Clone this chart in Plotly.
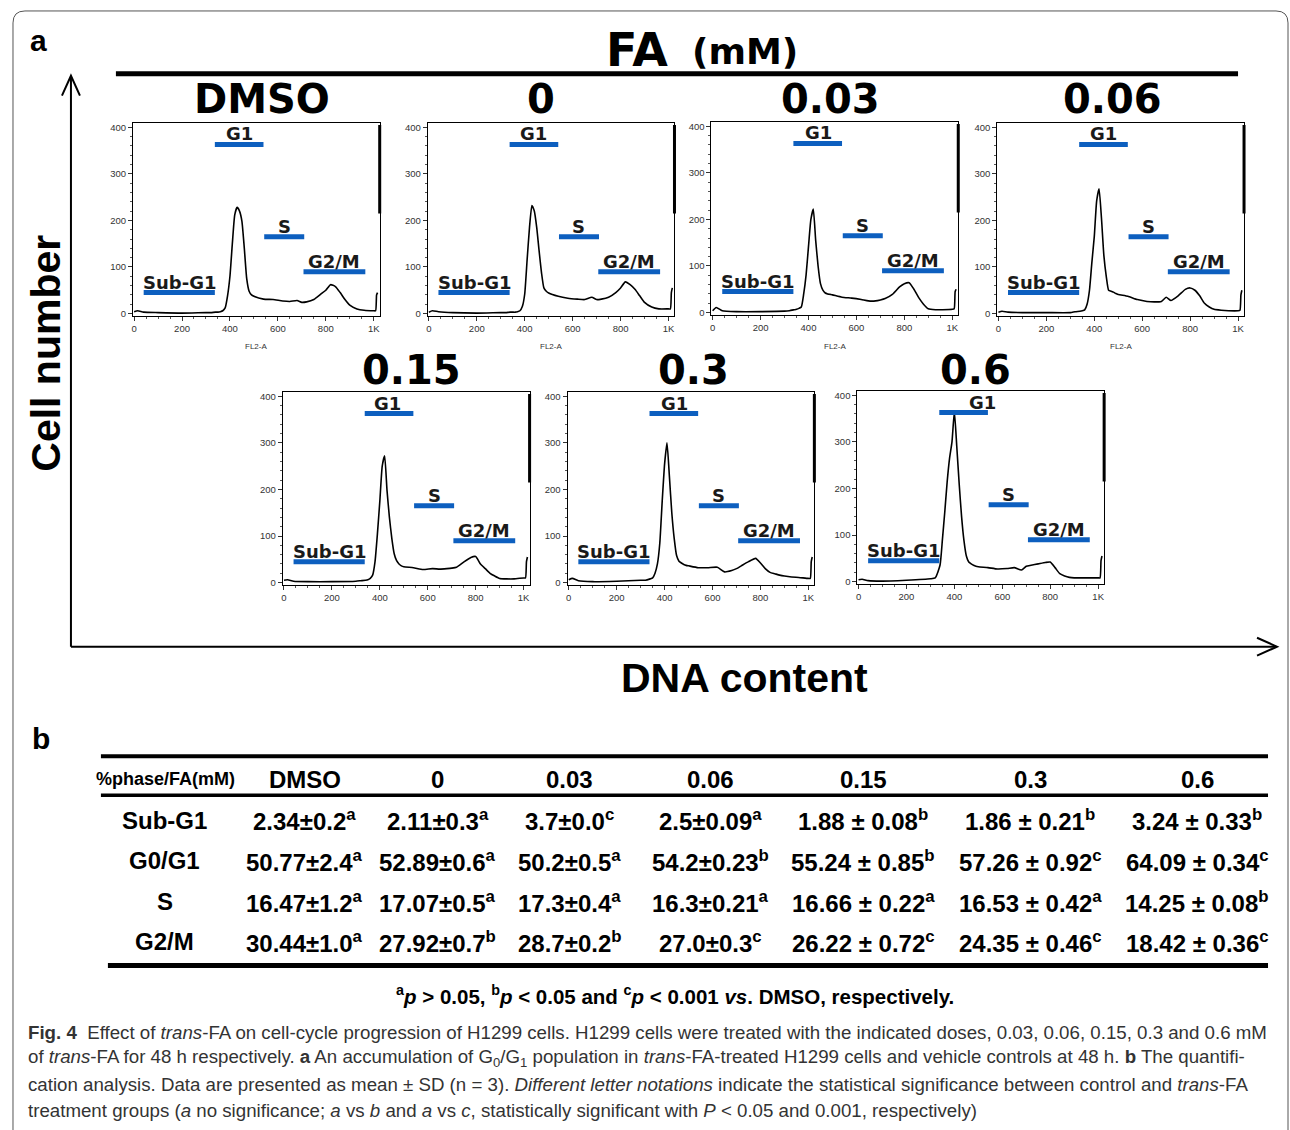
import plotly.graph_objects as go

W, H = 1290, 1130

# ---------------- data: panel a (flow-cytometry DNA histograms) ----------------
DOSES = ["DMSO", "0", "0.03", "0.06", "0.15", "0.3", "0.6"]
DNA_X = [0, 15, 40, 100, 200, 300, 320, 340, 350, 360, 370, 380, 390, 400, 410, 420,
         430, 440, 450, 460, 470, 480, 490, 500, 540, 580, 620, 650, 680, 700, 720,
         750, 780, 800, 820, 840, 860, 880, 900, 930, 960, 1000, 1008, 1012, 1016]
COUNT_DMSO = [4, 6, 3, 2, 1, 2, 2, 3, 3, 4, 6, 12, 38, 80, 150, 212, 228, 220, 198, 140,
              75, 48, 40, 37, 31, 30, 27, 26, 28, 24, 25, 30, 42, 50, 62, 58, 45, 30, 18,
              10, 7, 6, 6, 40, 45]
COUNT_0 = [3, 6, 4, 2, 1, 2, 2, 3, 3, 3, 4, 6, 15, 42, 115, 185, 232, 220, 185, 135,
           88, 55, 48, 44, 37, 33, 31, 30, 35, 30, 31, 35, 45, 55, 68, 62, 52, 38, 24,
           14, 10, 10, 10, 45, 55]
COUNT_003 = [4, 11, 4, 2, 2, 3, 4, 6, 7, 9, 12, 40, 81, 142, 200, 222, 155, 100, 62, 48,
             42, 40, 39, 38, 33, 31, 28, 25, 25, 27, 30, 39, 55, 62, 64, 50, 32, 18, 8,
             6, 6, 7, 8, 45, 50]
COUNT_006 = [3, 5, 3, 2, 2, 2, 4, 5, 6, 8, 20, 50, 110, 165, 242, 268, 205, 125, 80, 50,
             48, 46, 43, 41, 37, 30, 26, 25, 26, 35, 28, 38, 52, 55, 50, 38, 22, 14, 9,
             7, 6, 6, 7, 40, 50]
COUNT_015 = [5, 6, 3, 2, 2, 3, 4, 5, 6, 9, 16, 45, 105, 175, 250, 272, 198, 140, 95, 62,
             47, 40, 36, 34, 32, 28, 30, 29, 30, 31, 33, 44, 54, 56, 40, 30, 20, 14, 9,
             8, 8, 10, 10, 45, 55]
COUNT_03 = [6, 9, 4, 2, 3, 5, 5, 8, 10, 20, 40, 85, 175, 255, 300, 228, 150, 95, 58, 46,
            42, 39, 37, 36, 32, 32, 33, 23, 26, 30, 36, 45, 52, 42, 30, 22, 19, 16, 14,
            12, 11, 9, 9, 45, 55]
COUNT_06 = [4, 5, 2, 1, 3, 6, 8, 35, 90, 150, 215, 265, 300, 365, 290, 210, 140, 88, 55,
            42, 38, 35, 33, 32, 30, 27, 28, 30, 25, 33, 35, 38, 41, 42, 30, 17, 12, 9, 8,
            8, 8, 8, 8, 45, 55]
COUNTS = [COUNT_DMSO, COUNT_0, COUNT_003, COUNT_006, COUNT_015, COUNT_03, COUNT_06]

PHASES = ["Sub-G1", "G1", "S", "G2/M"]
GATE_X0 = [40, 337, 543, 707]
GATE_X1 = [337, 540, 710, 965]
GATE_Y = [45, 363, 165, 90]
G1_LABEL_X = [438, 438, 440, 440, 432, 440, 517]

X_TICKS = [0, 200, 400, 600, 800, 1000]
X_TICKTEXT = ["0", "200", "400", "600", "800", "1K"]
Y_TICKS = [0, 100, 200, 300, 400]

# ---------------- data: panel b (table) ----------------
TABLE_HEAD = "%phase/FA(mM)"
ROW_NAMES = ["Sub-G1", "G0/G1", "S", "G2/M"]
SUBG1_MEAN = [2.34, 2.11, 3.7, 2.5, 1.88, 1.86, 3.24]
SUBG1_SD = [0.2, 0.3, 0.0, 0.09, 0.08, 0.21, 0.33]
SUBG1_SIG = ["a", "a", "c", "a", "b", "b", "b"]
G0G1_MEAN = [50.77, 52.89, 50.2, 54.2, 55.24, 57.26, 64.09]
G0G1_SD = [2.4, 0.6, 0.5, 0.23, 0.85, 0.92, 0.34]
G0G1_SIG = ["a", "a", "a", "b", "b", "c", "c"]
S_MEAN = [16.47, 17.07, 17.3, 16.3, 16.66, 16.53, 14.25]
S_SD = [1.2, 0.5, 0.4, 0.21, 0.22, 0.42, 0.08]
S_SIG = ["a", "a", "a", "a", "a", "a", "b"]
G2M_MEAN = [30.44, 27.92, 28.7, 27.0, 26.22, 24.35, 18.42]
G2M_SD = [1.0, 0.7, 0.2, 0.3, 0.72, 0.46, 0.36]
G2M_SIG = ["a", "b", "b", "c", "c", "c", "c"]
TABLE_MEANS = [SUBG1_MEAN, G0G1_MEAN, S_MEAN, G2M_MEAN]
TABLE_SDS = [SUBG1_SD, G0G1_SD, S_SD, G2M_SD]
TABLE_SIGS = [SUBG1_SIG, G0G1_SIG, S_SIG, G2M_SIG]

FOOTNOTE = ("<sup>a</sup><i>p</i> &gt; 0.05, <sup>b</sup><i>p</i> &lt; 0.05 and "
            "<sup>c</sup><i>p</i> &lt; 0.001 <i>vs</i>. DMSO, respectively.")
CAPTION = [
    "<b>Fig. 4</b>  Effect of <i>trans</i>-FA on cell-cycle progression of H1299 cells. "
    "H1299 cells were treated with the indicated doses, 0.03, 0.06, 0.15, 0.3 and 0.6 mM",
    "of <i>trans</i>-FA for 48 h respectively. <b>a</b> An accumulation of "
    "G<sub>0</sub>/G<sub>1</sub> population in <i>trans</i>-FA-treated H1299 cells and "
    "vehicle controls at 48 h. <b>b</b> The quantifi-",
    "cation analysis. Data are presented as mean ± SD (n = 3). <i>Different letter "
    "notations</i> indicate the statistical significance between control and <i>trans</i>-FA",
    "treatment groups (<i>a</i> no significance; <i>a</i> vs <i>b</i> and <i>a</i> vs "
    "<i>c</i>, statistically significant with <i>P</i> &lt; 0.05 and 0.001, respectively)",
]

# ---------------- layout helpers ----------------
NARROW = "Liberation Sans, Arial, sans-serif"
HEAVY = "DejaVu Sans, Liberation Sans, sans-serif"
TICKF = "Liberation Sans, Arial, sans-serif"
BLUE = "#0d5fbf"


def fx(p):
    return p / W


def fy(p):
    return 1 - p / H


PANEL_BOX = [(132, 122), (427, 122), (711, 121), (997, 122), (282, 392), (567, 392), (857, 391)]
PW, PH = 247, 194
TITLE_POS = [(261, 98), (540, 98), (830, 98), (1112, 98), (411, 370), (693, 370), (975, 370)]

fig = go.Figure()
layout = dict(width=W, height=H, margin=dict(l=0, r=0, t=0, b=0),
              paper_bgcolor="white", plot_bgcolor="white", showlegend=False)
annotations = []
shapes = []

for i, (L, T) in enumerate(PANEL_BOX):
    n = i + 1
    sx = "" if n == 1 else str(n)
    xa, ya = "x" + sx, "y" + sx
    layout["xaxis" + sx] = dict(
        domain=[fx(L), fx(L + PW)], range=[-5, 1025], anchor=ya,
        showline=True, mirror=True, linecolor="black", linewidth=1,
        ticks="outside", ticklen=4, tickcolor="#333", tickvals=X_TICKS, ticktext=X_TICKTEXT,
        tickfont=dict(family=TICKF, size=9.5, color="#333"),
        minor=dict(ticks="outside", tick0=0, dtick=50, ticklen=2, tickcolor="#555"),
        showgrid=False, zeroline=False, fixedrange=True)
    layout["yaxis" + sx] = dict(
        domain=[fy(T + PH), fy(T)], range=[-5, 410], anchor=xa,
        showline=True, mirror=True, linecolor="black", linewidth=1,
        ticks="outside", ticklen=4, tickcolor="#333", tickvals=Y_TICKS,
        tickfont=dict(family=TICKF, size=9.5, color="#333"),
        minor=dict(ticks="outside", tick0=0, dtick=20, ticklen=2, tickcolor="#555"),
        showgrid=False, zeroline=False, fixedrange=True)

    fig.add_trace(go.Scatter(
        x=DNA_X, y=COUNTS[i], xaxis=xa, yaxis=ya, mode="lines",
        line=dict(color="black", width=1.6, shape="spline", smoothing=0.5),
        hoverinfo="skip"))

    for k, ph in enumerate(PHASES):
        fig.add_trace(go.Scatter(
            x=[GATE_X0[k], GATE_X1[k]], y=[GATE_Y[k], GATE_Y[k]], xaxis=xa, yaxis=ya,
            mode="lines", line=dict(color=BLUE, width=5), hoverinfo="skip"))
        lx = G1_LABEL_X[i] if ph == "G1" else (GATE_X0[k] + GATE_X1[k]) / 2
        annotations.append(dict(
            x=lx, y=GATE_Y[k], xref=xa, yref=ya, text=ph, showarrow=False,
            xanchor="center", yanchor="bottom", yshift=-2,
            font=dict(family=HEAVY, size=18, color="#1a1a1a", weight="bold")))

    # thick right frame segment of the cytometer plot
    shapes.append(dict(type="line", xref=xa + " domain", yref=ya, x0=1, x1=1, y0=215, y1=405,
                       line=dict(color="black", width=3)))

    tx, ty = TITLE_POS[i]
    annotations.append(dict(
        x=fx(tx), y=fy(ty), xref="paper", yref="paper", text=DOSES[i], showarrow=False,
        xanchor="center", yanchor="middle",
        font=dict(family=HEAVY, size=40, color="black", weight="bold")))
    if n <= 4:
        annotations.append(dict(
            x=fx(L + PW / 2), y=fy(347), xref="paper", yref="paper", text="FL2-A",
            showarrow=False, xanchor="center", yanchor="middle",
            font=dict(family=TICKF, size=8, color="#333")))

# ---- header "FA (mM)" and its rule ----
annotations.append(dict(x=fx(670), y=fy(49), xref="paper", yref="paper", text="FA",
                        showarrow=False, xanchor="right", yanchor="middle",
                        font=dict(family=HEAVY, size=46, color="black", weight="bold")))
annotations.append(dict(x=fx(690), y=fy(51), xref="paper", yref="paper", text="(mM)",
                        showarrow=False, xanchor="left", yanchor="middle",
                        font=dict(family=HEAVY, size=36, color="black", weight="bold")))
shapes.append(dict(type="line", xref="paper", yref="paper", x0=fx(115), x1=fx(1238),
                   y0=fy(73), y1=fy(73), line=dict(color="black", width=5)))

# ---- panel letters ----
for letter, (lx, ly) in zip(["a", "b"], [(38, 40), (40, 740)]):
    annotations.append(dict(x=fx(lx), y=fy(ly), xref="paper", yref="paper", text=letter,
                            showarrow=False, xanchor="center", yanchor="middle",
                            font=dict(family=TICKF, size=30, color="black", weight="bold")))

# ---- big axes arrows ----
ARROW = dict(color="black", width=2)
shapes.append(dict(type="line", xref="paper", yref="paper", x0=fx(70), x1=fx(70),
                   y0=fy(648), y1=fy(76), line=ARROW))
shapes.append(dict(type="line", xref="paper", yref="paper", x0=fx(70), x1=fx(1275),
                   y0=fy(648), y1=fy(648), line=ARROW))
shapes.append(dict(type="path", xref="paper", yref="paper", line=ARROW,
                   path=f"M {fx(61)} {fy(95)} L {fx(70)} {fy(75)} L {fx(79)} {fy(95)}"))
shapes.append(dict(type="path", xref="paper", yref="paper", line=ARROW,
                   path=f"M {fx(1257)} {fy(639)} L {fx(1277)} {fy(648)} L {fx(1257)} {fy(657)}"))
annotations.append(dict(x=fx(45), y=fy(353), xref="paper", yref="paper", text="Cell number",
                        textangle=-90, showarrow=False, xanchor="center", yanchor="middle",
                        font=dict(family=NARROW, size=41, color="black", weight="bold")))
annotations.append(dict(x=fx(744), y=fy(679), xref="paper", yref="paper", text="DNA content",
                        showarrow=False, xanchor="center", yanchor="middle",
                        font=dict(family=NARROW, size=41, color="black", weight="bold")))

# ---- table ----
COL_X = [304, 437, 569, 710, 863, 1030, 1197]
HEAD_Y = 781
ROW_Y = [822, 863, 904, 944]
SEP = ["±", "±", "±", "±", " ± ", " ± ", " ± "]
TFONT = dict(family=NARROW, size=24, color="black", weight="bold")

shapes.append(dict(type="line", xref="paper", yref="paper", x0=fx(100), x1=fx(1268),
                   y0=fy(758), y1=fy(758), line=dict(color="black", width=4)))
shapes.append(dict(type="line", xref="paper", yref="paper", x0=fx(100), x1=fx(1268),
                   y0=fy(797), y1=fy(797), line=dict(color="black", width=3.5)))
shapes.append(dict(type="line", xref="paper", yref="paper", x0=fx(107), x1=fx(1268),
                   y0=fy(968), y1=fy(968), line=dict(color="black", width=5)))

annotations.append(dict(x=fx(165), y=fy(HEAD_Y), xref="paper", yref="paper", text=TABLE_HEAD,
                        showarrow=False, xanchor="center", yanchor="middle",
                        font=dict(family=NARROW, size=18, color="black", weight="bold")))
for j, d in enumerate(DOSES):
    annotations.append(dict(x=fx(COL_X[j]), y=fy(HEAD_Y), xref="paper", yref="paper", text=d,
                            showarrow=False, xanchor="center", yanchor="middle", font=TFONT))
for r, name in enumerate(ROW_NAMES):
    annotations.append(dict(x=fx(164), y=fy(ROW_Y[r]), xref="paper", yref="paper", text=name,
                            showarrow=False, xanchor="center", yanchor="middle", font=TFONT))
    for j in range(len(DOSES)):
        txt = f"{TABLE_MEANS[r][j]}{SEP[j]}{TABLE_SDS[r][j]}<sup>{TABLE_SIGS[r][j]}</sup>"
        annotations.append(dict(x=fx(COL_X[j]), y=fy(ROW_Y[r]), xref="paper", yref="paper",
                                text=txt, showarrow=False, xanchor="center", yanchor="middle",
                                font=TFONT))

annotations.append(dict(x=fx(675), y=fy(998), xref="paper", yref="paper", text=FOOTNOTE,
                        showarrow=False, xanchor="center", yanchor="middle",
                        font=dict(family=NARROW, size=20.5, color="black", weight="bold")))

# ---- caption ----
for k, line in enumerate(CAPTION):
    annotations.append(dict(x=fx(25), y=fy(1035 + 26 * k), xref="paper", yref="paper",
                            text=line, showarrow=False, xanchor="left", yanchor="middle",
                            font=dict(family=NARROW, size=18.7, color="#333")))

# ---- outer rounded frame ----
shapes.append(dict(type="path", xref="paper", yref="paper", line=dict(color="#555", width=1),
                   path=(f"M {fx(12)} {fy(1140)} L {fx(12)} {fy(22)} Q {fx(12)} {fy(10)} "
                         f"{fx(24)} {fy(10)} L {fx(1276)} {fy(10)} Q {fx(1288)} {fy(10)} "
                         f"{fx(1288)} {fy(22)} L {fx(1288)} {fy(1140)}")))

layout["annotations"] = annotations
layout["shapes"] = shapes
fig.update_layout(**layout)

fig.write_html("out.html", config={"displayModeBar": False, "staticPlot": True},
               post_script="document.body.style.margin='0';")
